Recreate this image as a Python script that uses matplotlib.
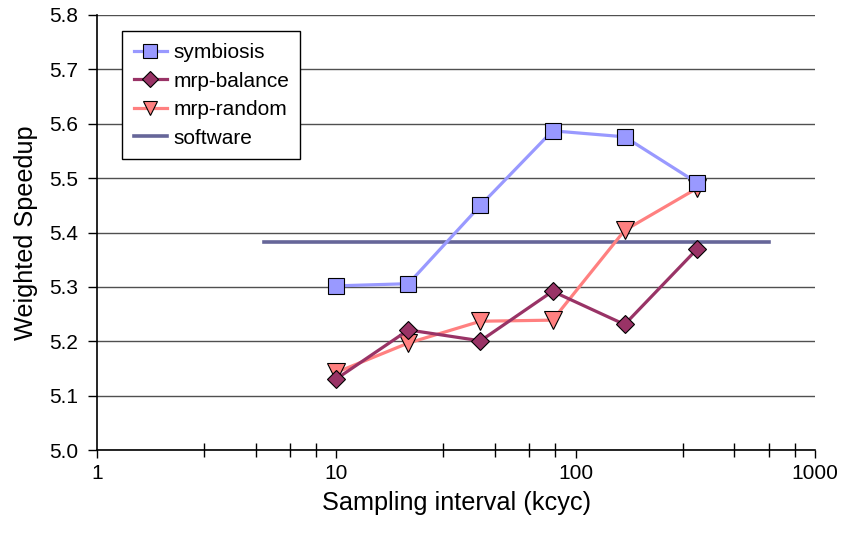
import numpy as np
from matplotlib import pyplot as plt
from matplotlib.ticker import FixedLocator, NullFormatter

# данные с графика
intervals = [10, 20, 40, 80, 160, 320]
symbiosis = [5.302, 5.306, 5.450, 5.587, 5.576, 5.492]
mrp_balance = [5.131, 5.221, 5.201, 5.292, 5.231, 5.369]
mrp_random = [5.143, 5.197, 5.237, 5.239, 5.404, 5.481]
software_x = [5, 640]
software_y = [5.382, 5.382]

x_ticks = [1, 10, 100, 1000]
x_tick_labels = ['1', '10', '100', '1000']
x_minor = [d * m for d in (1, 10, 100) for m in (2.8, 4.6, 6.4, 8.2)]
y_ticks = [5.0, 5.1, 5.2, 5.3, 5.4, 5.5, 5.6, 5.7, 5.8]

plt.rcParams['font.family'] = ['Liberation Sans', 'DejaVu Sans']

fig = plt.figure(figsize=(8.43, 5.34), dpi=100)
ax = fig.add_axes([0.115, 0.157, 0.852, 0.815])

ax.plot(intervals, symbiosis, color='#9999FF', lw=2.3, marker='s', ms=11.5,
        mfc='#9999FF', mec='black', mew=0.8, label='symbiosis', zorder=5)
ax.plot(intervals, mrp_random, color='#FF8080', lw=2.3, marker='v', ms=12.5,
        mfc='#FF8080', mec='black', mew=0.8, label='mrp-random', zorder=3)
ax.plot(intervals, mrp_balance, color='#993366', lw=2.3, marker='D', ms=9.5,
        mfc='#993366', mec='black', mew=0.8, label='mrp-balance', zorder=4)
ax.plot(software_x, software_y, color='#666699', lw=2.6, label='software', zorder=2)

ax.set_xscale('log')
ax.set_xlim(1, 1000)
ax.set_ylim(5.0, 5.8)

ax.xaxis.set_major_locator(FixedLocator(x_ticks))
ax.set_xticklabels(x_tick_labels)
ax.xaxis.set_minor_locator(FixedLocator(x_minor))
ax.xaxis.set_minor_formatter(NullFormatter())
ax.set_yticks(y_ticks)
ax.set_yticklabels([f'{v:.1f}' for v in y_ticks])

ax.tick_params(axis='x', which='major', direction='out', length=6, width=1, labelsize=15, pad=4)
ax.tick_params(axis='x', which='minor', direction='inout', length=10, width=1)
ax.tick_params(axis='y', which='major', direction='out', length=6.5, width=1, labelsize=15, pad=7)
ax.tick_params(axis='y', which='minor', left=False)

ax.grid(axis='y', which='major', color='#505050', lw=1)
ax.set_axisbelow(True)
for side in ('top', 'right'):
    ax.spines[side].set_visible(False)
ax.spines['left'].set_linewidth(1.2)
ax.spines['bottom'].set_linewidth(1.2)

ax.set_xlabel('Sampling interval (kcyc)', fontsize=18.2, labelpad=6)
ax.set_ylabel('Weighted Speedup', fontsize=18.2, labelpad=8)

handles, labels = ax.get_legend_handles_labels()
order = [0, 2, 1, 3]
leg = ax.legend([handles[i] for i in order], [labels[i] for i in order],
                loc='upper left', bbox_to_anchor=(0.035, 0.962), borderaxespad=0,
                fontsize=15, fancybox=False, edgecolor='black', framealpha=1,
                handlelength=1.6, handletextpad=0.3, labelspacing=0.46,
                borderpad=0.55, markerscale=0.85)
leg.get_frame().set_linewidth(1)

fig.savefig('out.png', dpi=100)
